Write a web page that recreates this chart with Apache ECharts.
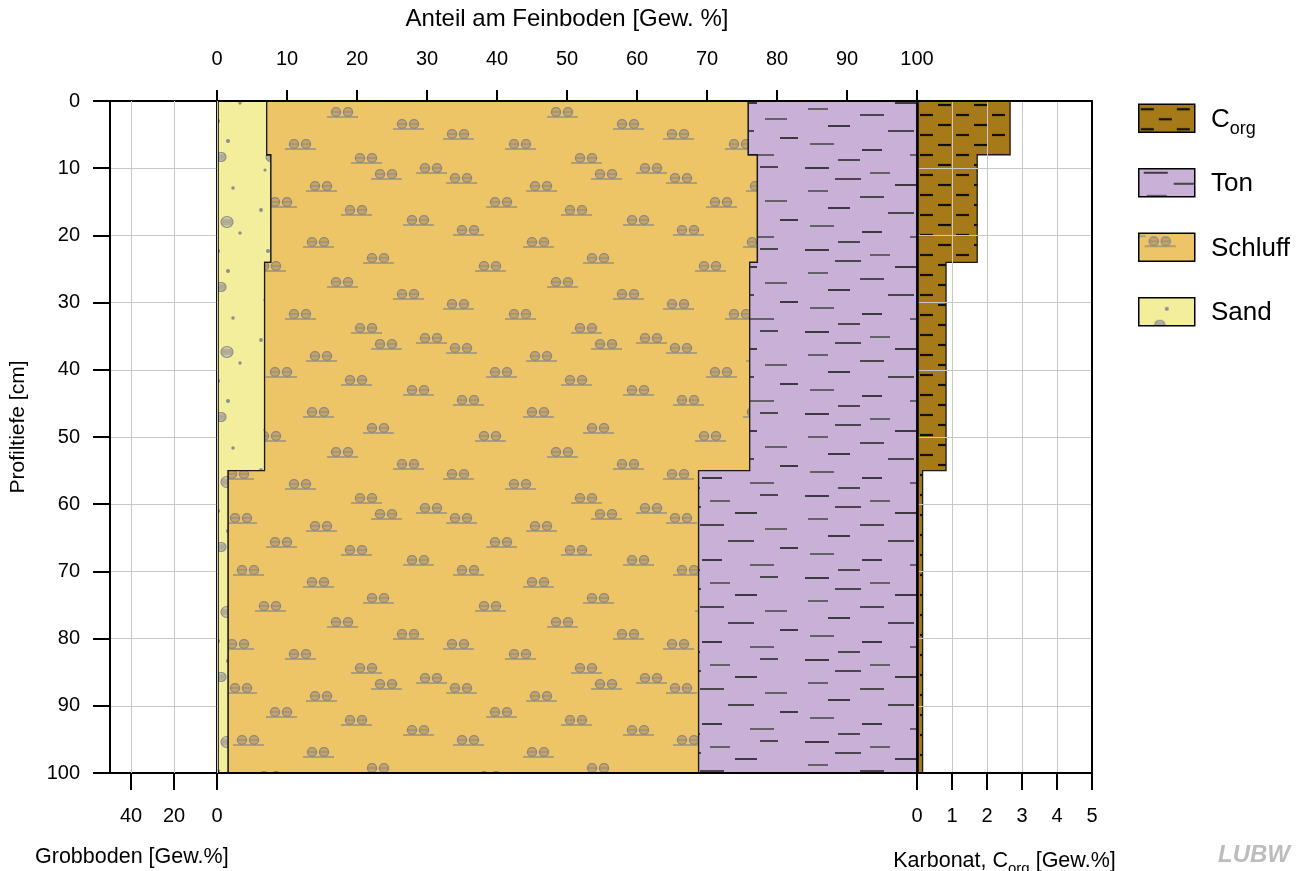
<!DOCTYPE html>
<html>
<head>
<meta charset="utf-8">
<script src="https://cdn.jsdelivr.net/npm/echarts@6/dist/echarts.min.js"></script>
<style>
html,body{margin:0;padding:0;background:#fff;}
#chart{width:1302px;height:871px;}
</style>
</head>
<body>
<div id="chart"></div>
<script>
// ---------------- data ----------------
const depths   = [0, 8, 24, 55, 100];          // layer boundaries [cm]
const sand     = [7.1, 7.7, 6.8, 1.6];         // Gew.% of fine soil
const schluff  = [68.8, 69.5, 69.3, 67.2];
const ton      = [24.1, 22.8, 23.9, 31.2];
const corg     = [2.66, 1.72, 0.83, 0.16];     // Gew.%
const grobboden = [0, 0, 0, 0];
const depthTicks = [0, 10, 20, 30, 40, 50, 60, 70, 80, 90, 100];
const feinTicks = [0, 10, 20, 30, 40, 50, 60, 70, 80, 90, 100];
const grobTicks = [0, 20, 40];
const karbTicks = [0, 1, 2, 3, 4, 5];
const legendNames = ['Corg', 'Ton', 'Schluff', 'Sand'];

const FONT = "'Liberation Sans', Arial, Helvetica, sans-serif";

// ---------------- patterns ----------------
function mk(w, h, draw) {
  const c = document.createElement('canvas');
  c.width = w; c.height = h;
  const ctx = c.getContext('2d');
  draw(ctx, w, h);
  return { image: c, repeat: 'repeat' };
}
function line(ctx, x1, y1, x2, y2, col, lw) {
  ctx.strokeStyle = col; ctx.lineWidth = lw;
  ctx.beginPath(); ctx.moveTo(x1, y1); ctx.lineTo(x2, y2); ctx.stroke();
}
function wrapDraw(w, h, fn) {
  [-w, 0, w].forEach(ox => [-h, 0, h].forEach(oy => fn(ox, oy)));
}
const sandPat = mk(50, 130, (ctx, w, h) => {
  ctx.fillStyle = '#F3EE9B'; ctx.fillRect(0, 0, w, h);
  const dots = [[28, 11, 2], [15, 40, 1.6], [33, 58, 1.8], [11, 80, 1.9], [40, 103, 1.7], [18, 121, 2]];
  ctx.fillStyle = '#8d8d8d';
  dots.forEach(d => { ctx.beginPath(); ctx.arc(d[0], d[1], d[2], 0, Math.PI * 2); ctx.fill(); });
  const ov = [[21, 27, 5, 4.5], [27, 92, 6, 5.5]];
  ov.forEach(o => {
    ctx.fillStyle = '#cdc79c'; ctx.strokeStyle = '#8d8d8d'; ctx.lineWidth = 1.2;
    ctx.beginPath(); ctx.ellipse(o[0], o[1], o[2], o[3], 0, 0, Math.PI * 2); ctx.fill(); ctx.stroke();
    line(ctx, o[0] - o[2] + 1, o[1], o[0] + o[2] - 1, o[1], '#8d8d8d', 1);
    line(ctx, o[0] - o[2] + 1, o[1] - 2, o[0] + o[2] - 1, o[1] - 2, '#8d8d8d', 0.8);
    line(ctx, o[0] - o[2] + 1, o[1] + 2, o[0] + o[2] - 1, o[1] + 2, '#8d8d8d', 0.8);
  });
});
function siltSymbol(ctx, x, y) {
  [0, 12].forEach(dx => {
    ctx.fillStyle = '#c8a460'; ctx.strokeStyle = '#888'; ctx.lineWidth = 1.3;
    ctx.beginPath(); ctx.ellipse(x + dx, y, 4.6, 4.4, 0, 0, Math.PI * 2); ctx.fill(); ctx.stroke();
    line(ctx, x + dx - 4, y, x + dx + 4, y, '#888', 1);
  });
  line(ctx, x - 9, y + 5, x + 22, y + 5, '#888', 1.3);
}
const siltPos = [[15, 8], [95, 16], [160, 4], [55, 32], [130, 40], [192, 50], [22, 60], [92, 72],
                 [152, 88], [44, 96], [116, 112], [182, 124], [12, 134], [74, 144], [140, 158], [205, 168]];
const schluffPat = mk(220, 170, (ctx, w, h) => {
  ctx.fillStyle = '#EDC466'; ctx.fillRect(0, 0, w, h);
  wrapDraw(w, h, (ox, oy) => siltPos.forEach(p => siltSymbol(ctx, p[0] + ox, p[1] + oy)));
});
const tonDash = [[5, 4, 24, '#111'], [70, 9, 20, '#444'], [120, 3, 18, '#222'], [35, 15, 26, '#222'],
                 [95, 21, 22, '#111'], [8, 27, 20, '#444'], [60, 33, 24, '#222'], [125, 37, 22, '#444'],
                 [28, 44, 22, '#111'], [88, 49, 26, '#222'], [140, 56, 18, '#111'], [10, 62, 24, '#444'],
                 [62, 68, 20, '#111'], [110, 73, 24, '#444'], [38, 78, 22, '#222']];
const tonPat = mk(160, 82, (ctx, w, h) => {
  ctx.fillStyle = '#C8B0D6'; ctx.fillRect(0, 0, w, h);
  wrapDraw(w, h, (ox, oy) => tonDash.forEach(a => line(ctx, a[0] + ox, a[1] + oy, a[0] + a[2] + ox, a[1] + oy, a[3], 1.5)));
});
const corgPat = mk(36, 20, (ctx, w, h) => {
  ctx.fillStyle = '#A67A18'; ctx.fillRect(0, 0, w, h);
  line(ctx, 2, 5, 15, 5, '#111', 2.2);
  line(ctx, 20, 15, 33, 15, '#111', 2.2);
});
const patterns = { Corg: corgPat, Ton: tonPat, Schluff: schluffPat, Sand: sandPat };

// ---------------- cumulative bounds ----------------
const sandL = sand.map(() => 0);
const sandR = sand.slice();
const schL = sandR.slice();
const schR = sand.map((v, i) => v + schluff[i]);
const tonL = schR.slice();
const tonR = sand.map((v, i) => v + schluff[i] + ton[i]);
const corgL = corg.map(() => 0);

function polySeries(name, L, R, xi, yi, fill) {
  return {
    type: 'custom', name: name, xAxisIndex: xi, yAxisIndex: yi, silent: true, z: 2,
    data: [[0, 0]],
    renderItem: function (params, api) {
      const pts = [];
      for (let i = 0; i < R.length; i++) {
        pts.push(api.coord([R[i], depths[i]]));
        pts.push(api.coord([R[i], depths[i + 1]]));
      }
      for (let i = L.length - 1; i >= 0; i--) {
        pts.push(api.coord([L[i], depths[i + 1]]));
        pts.push(api.coord([L[i], depths[i]]));
      }
      return { type: 'polygon', shape: { points: pts },
               style: { fill: fill, stroke: '#1a1a1a', lineWidth: 1.3 } };
    }
  };
}

const chart = echarts.init(document.getElementById('chart'), null, { renderer: 'canvas' });
const G_TOP = 101, G_H = 672;
const blackLine = (w) => ({ show: true, onZero: false, lineStyle: { color: '#000', width: w } });
const noLine = { show: false, onZero: false };
const grayGrid = { show: true, lineStyle: { color: '#c8c8c8', width: 1 } };
const noSplit = { show: false };
const lab = (m) => ({ show: true, color: '#000', fontSize: 20, fontFamily: FONT, margin: m });
const tick = (len) => ({ show: true, length: len, lineStyle: { color: '#000', width: 2 } });

const legendGraphics = [];
legendNames.forEach((n, i) => {
  const cy = 117.5 + i * 64.5;
  legendGraphics.push({ type: 'rect', left: 1138, top: cy - 14, shape: { width: 56, height: 28 },
    style: { fill: patterns[n], stroke: '#000', lineWidth: 1.5 }, z: 20 });
  legendGraphics.push({ type: 'text', left: 1211, top: cy - 11,
    style: { text: n === 'Corg' ? '{b|C}{s|org}' : '{b|' + n + '}',
      rich: { b: { fontSize: 26, fontFamily: FONT, fill: '#000', verticalAlign: 'bottom', lineHeight: 32 },
              s: { fontSize: 18, fontFamily: FONT, fill: '#000', verticalAlign: 'bottom', lineHeight: 22, padding: [0, 0, -6, 0] } } }, z: 20 });
});

chart.setOption({
  animation: false,
  backgroundColor: '#fff',
  grid: [
    { left: 217, top: G_TOP, width: 700, height: G_H, outerBoundsMode: 'none', containLabel: false },   // main
    { left: 110, top: G_TOP, width: 107, height: G_H, outerBoundsMode: 'none', containLabel: false },   // Grobboden frame
    { left: 917, top: G_TOP, width: 175, height: G_H, outerBoundsMode: 'none', containLabel: false },   // Karbonat / Corg
    { left: 131, top: G_TOP, width: 86, height: G_H, outerBoundsMode: 'none', containLabel: false }     // Grobboden scale 0..40
  ],
  xAxis: [
    { gridIndex: 0, type: 'value', position: 'top', min: feinTicks[0], max: feinTicks[feinTicks.length - 1], interval: 10, z: 10,
      name: 'Anteil am Feinboden [Gew. %]', nameLocation: 'middle', nameGap: 70,
      nameTextStyle: { fontSize: 24, fontFamily: FONT, color: '#000' },
      axisLine: blackLine(2), axisTick: tick(11), axisLabel: lab(32), splitLine: noSplit },
    { gridIndex: 0, type: 'value', position: 'bottom', min: 0, max: 100, z: 10,
      axisLine: blackLine(2), axisTick: { show: false }, axisLabel: { show: false }, splitLine: noSplit },
    { gridIndex: 1, type: 'value', position: 'bottom', min: 0, max: 50, inverse: true, z: 10,
      axisLine: blackLine(2), axisTick: { show: false }, axisLabel: { show: false }, splitLine: noSplit },
    { gridIndex: 1, type: 'value', position: 'top', min: 0, max: 50, inverse: true, z: 10,
      axisLine: blackLine(2), axisTick: { show: false }, axisLabel: { show: false }, splitLine: noSplit },
    { gridIndex: 2, type: 'value', position: 'bottom', min: karbTicks[0], max: karbTicks[karbTicks.length - 1], interval: 1, z: 10,
      name: '{n|Karbonat, C}{s|org}{n| [Gew.%]}', nameLocation: 'middle', nameGap: 73,
      nameTextStyle: { rich: { n: { fontSize: 21.5, fontFamily: FONT, color: '#000', verticalAlign: 'bottom', lineHeight: 26 },
                               s: { fontSize: 15, fontFamily: FONT, color: '#000', verticalAlign: 'bottom', lineHeight: 19, padding: [0, 0, -4, 0] } } },
      axisLine: blackLine(2), axisTick: tick(17), axisLabel: lab(33), splitLine: grayGrid },
    { gridIndex: 2, type: 'value', position: 'top', min: 0, max: 5, z: 10,
      axisLine: blackLine(2), axisTick: { show: false }, axisLabel: { show: false }, splitLine: noSplit },
    { gridIndex: 3, type: 'value', position: 'bottom', min: grobTicks[0], max: grobTicks[grobTicks.length - 1], interval: 20, inverse: true, z: 11,
      axisLine: noLine, axisTick: tick(17), axisLabel: lab(33), splitLine: grayGrid }
  ],
  yAxis: [
    { gridIndex: 0, type: 'value', inverse: true, min: 0, max: 100, z: 10, position: 'left',
      axisLine: blackLine(2.5), axisTick: { show: false }, axisLabel: { show: false }, splitLine: noSplit },
    { gridIndex: 1, type: 'value', inverse: true, min: depthTicks[0], max: depthTicks[depthTicks.length - 1], interval: 10, z: 10, position: 'left',
      axisLine: blackLine(2), axisTick: tick(17), axisLabel: lab(30), splitLine: grayGrid },
    { gridIndex: 2, type: 'value', inverse: true, min: 0, max: 100, interval: 10, z: 10, position: 'left',
      axisLine: blackLine(2.5), axisTick: { show: false }, axisLabel: { show: false }, splitLine: grayGrid },
    { gridIndex: 2, type: 'value', inverse: true, min: 0, max: 100, z: 10, position: 'right',
      axisLine: blackLine(2), axisTick: { show: false }, axisLabel: { show: false }, splitLine: noSplit },
    { gridIndex: 3, type: 'value', inverse: true, min: 0, max: 100, show: false, axisLine: noLine }
  ],
  series: [
    polySeries('Grobboden', grobboden.map(() => 0), grobboden, 2, 1, '#999'),
    polySeries('Sand', sandL, sandR, 0, 0, sandPat),
    polySeries('Schluff', schL, schR, 0, 0, schluffPat),
    polySeries('Ton', tonL, tonR, 0, 0, tonPat),
    polySeries('Corg', corgL, corg, 4, 2, corgPat)
  ],
  graphic: legendGraphics.concat([
    { type: 'text', x: 18, y: 427, rotation: Math.PI / 2, z: 20,
      style: { text: 'Profiltiefe [cm]', fontSize: 21, fontFamily: FONT, fill: '#000', align: 'center', verticalAlign: 'middle' } },
    { type: 'text', left: 35, top: 846, z: 20,
      style: { text: 'Grobboden [Gew.%]', fontSize: 21.5, fontFamily: FONT, fill: '#000' } },
    { type: 'text', left: 1218, top: 843, z: 20,
      style: { text: 'LUBW', fontSize: 24, fontWeight: 'bold', fontStyle: 'italic', fontFamily: FONT, fill: '#bdbdbd' } }
  ])
});
</script>
</body>
</html>
